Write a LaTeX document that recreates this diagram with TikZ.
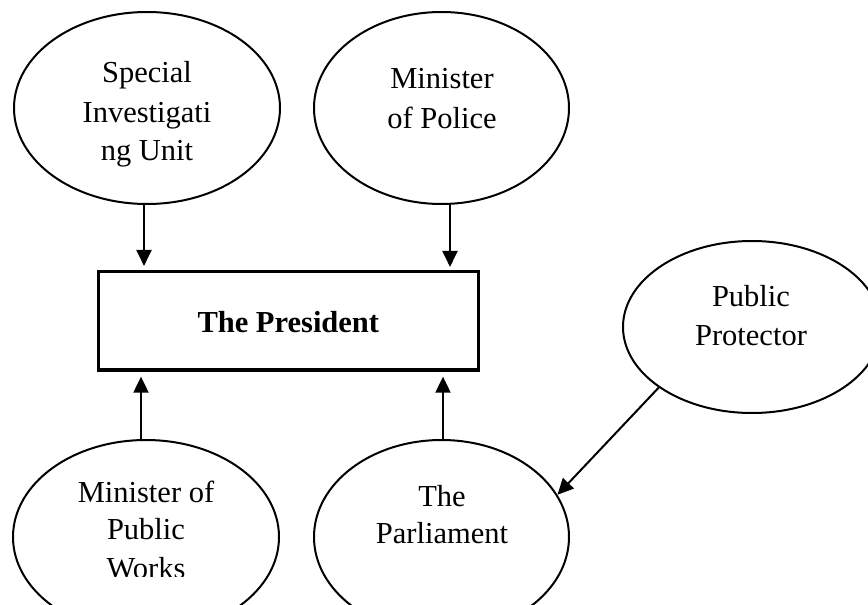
\documentclass[tikz,border=0pt]{standalone}
\usepackage{fontspec}
\setmainfont{Liberation Serif}
\usetikzlibrary{arrows.meta,shapes.geometric}
\begin{document}
\begin{tikzpicture}[x=1pt,y=-1pt,
  bubble/.style={ellipse,draw,line width=2pt,inner sep=0pt},
  boss/.style={rectangle,draw,line width=3.4pt,inner sep=0pt,minimum width=380pt,minimum height=98.3pt},
  lbl/.style={anchor=base,inner sep=0pt,font=\fontsize{30.5}{36}\selectfont},
  arr/.style={-{Triangle[length=16pt,width=15pt]},line width=2pt}]
\clip (0,0) rectangle (868,605);
\fill[white] (0,0) rectangle (868,605);
% shapes
\node[bubble,minimum width=266pt,minimum height=192pt] (siu) at (147,108) {};
\node[bubble,minimum width=255pt,minimum height=192pt] (pol) at (441.5,108) {};
\node[bubble,minimum width=258pt,minimum height=172pt] (pp) at (752,327) {};
\node[bubble,minimum width=266pt,minimum height=194pt] (mpw) at (146,537) {};
\node[bubble,minimum width=255pt,minimum height=194pt] (parl) at (441.5,537) {};
\node[boss] (pres) at (288.3,320.8) {};
% texts
\node[lbl] (siu1) at (147,82) {Special};
\node[lbl] (siu2) at (147,122) {Investigati};
\node[lbl] (siu3) at (147,160) {ng Unit};
\node[lbl] (pol1) at (442,88) {Minister};
\node[lbl] (pol2) at (442,128) {of Police};
\node[lbl] (pp1) at (751,306.5) {Public};
\node[lbl] (pp2) at (751,345) {Protector};
\node[lbl] (mpw1) at (146,502) {Minister of};
\node[lbl] (mpw2) at (146,539) {Public};
\begin{scope}
\clip (0,440) rectangle (300,576);
\node[lbl] (mpw3) at (146,578) {Works};
\end{scope}
\node[lbl] (parl1) at (442,506) {The};
\node[lbl] (parl2) at (442,543) {Parliament};
\node[lbl,font=\fontsize{30.5}{36}\selectfont\bfseries] (prest) at (288.3,332) {The President};
% connectors
\draw[arr,shorten >=4pt] ([xshift=-3pt]siu.south) -- ([xshift=-3pt]siu.south |- pres.north);
\draw[arr,shorten >=3pt] ([xshift=8.5pt]pol.south) -- ([xshift=8.5pt]pol.south |- pres.north);
\draw[arr,shorten >=5pt] ([xshift=-5pt]mpw.north) -- ([xshift=-5pt]mpw.north |- pres.south);
\draw[arr,shorten >=5pt] ([xshift=1.5pt]parl.north) -- ([xshift=1.5pt]parl.north |- pres.south);
\draw[arr] (pp.213.5) -- (parl.20);
\end{tikzpicture}
\end{document}
